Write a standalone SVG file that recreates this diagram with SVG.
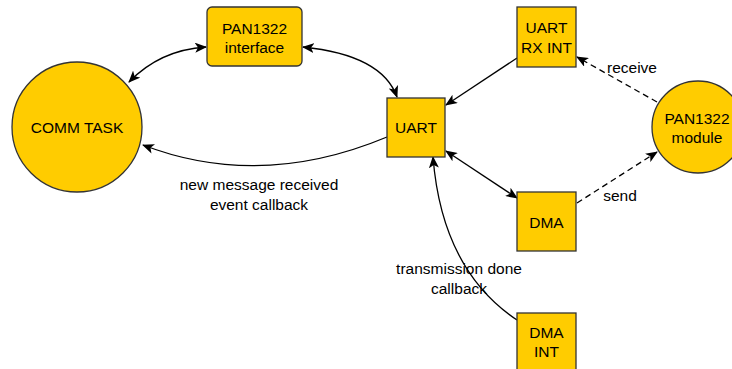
<svg xmlns="http://www.w3.org/2000/svg" width="732" height="369" viewBox="0 0 732 369">
<defs>
<marker id="arr" viewBox="0 0 12 10" refX="11" refY="5" markerWidth="12" markerHeight="10" markerUnits="userSpaceOnUse" orient="auto-start-reverse">
<path d="M0,0 L12,5 L0,10 L3,5 Z" fill="#000"/>
</marker>
</defs>
<style>
.n{fill:#FFCC00;stroke:#333333;stroke-width:1.3}
.t{font-family:"Liberation Sans",Arial,sans-serif;font-size:15.5px;fill:#000;text-anchor:middle}
.c{fill:none;stroke:#000;stroke-width:1.3}
.d{stroke-dasharray:6 4}
.s{marker-end:url(#arr)}
.b{marker-start:url(#arr);marker-end:url(#arr)}
</style>
<rect width="732" height="369" fill="#fff"/>
<g id="connectors">
<path class="c b" d="M129,82 Q160,50 206,47"/>
<path class="c b" d="M303,47 Q382,55 397,97"/>
<path class="c s" d="M387,137 Q260,190 143,145"/>
<path class="c s" d="M517,58 L446,105"/>
<path class="c d s" d="M657,102 L577,57"/>
<path class="c b" d="M446,151 L517,198"/>
<path class="c d s" d="M577,203 L657,152"/>
<path class="c s" d="M517,320 Q442,270 433,157"/>
<text class="t" x="632" y="73">receive</text>
<text class="t" x="620" y="201">send</text>
<text class="t" x="259" y="190">new message received</text>
<text class="t" x="259" y="210">event callback</text>
<text class="t" x="459" y="274">transmission done</text>
<text class="t" x="459" y="294">callback</text>
</g>
<g id="comm-task">
<circle class="n" cx="77" cy="127" r="65"/>
<text class="t" x="77" y="133">COMM TASK</text>
</g>
<g id="pan1322-interface">
<rect class="n" x="207" y="7" width="95" height="59" rx="5"/>
<text class="t" x="254.5" y="34">PAN1322</text>
<text class="t" x="254.5" y="53">interface</text>
</g>
<g id="uart">
<rect class="n" x="387" y="98" width="58" height="59"/>
<text class="t" x="416" y="133">UART</text>
</g>
<g id="uart-rx-int">
<rect class="n" x="517" y="7" width="59" height="60"/>
<text class="t" x="546.5" y="33">UART</text>
<text class="t" x="546.5" y="53">RX INT</text>
</g>
<g id="pan1322-module">
<circle class="n" cx="698" cy="127" r="46"/>
<text class="t" x="697" y="124">PAN1322</text>
<text class="t" x="697" y="143">module</text>
</g>
<g id="dma">
<rect class="n" x="517" y="192" width="59" height="59"/>
<text class="t" x="546.5" y="228">DMA</text>
</g>
<g id="dma-int">
<rect class="n" x="517" y="313" width="59" height="62"/>
<text class="t" x="546.5" y="338">DMA</text>
<text class="t" x="546.5" y="357">INT</text>
</g>
</svg>
